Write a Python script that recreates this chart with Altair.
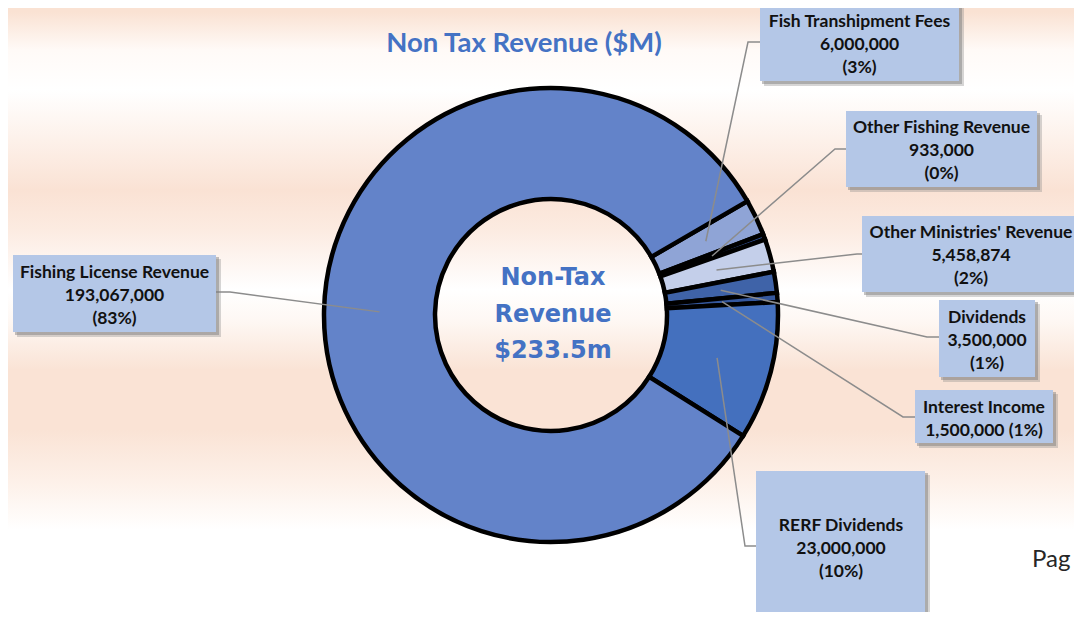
import math
import altair as alt
import pandas as pd

# ---------------- data ----------------
categories = ["Fish Transhipment Fees", "Other Fishing Revenue", "Other Ministries' Revenue",
              "Dividends", "Interest Income", "RERF Dividends", "Fishing License Revenue"]
values = [6000000, 933000, 5458874, 3500000, 1500000, 23000000, 193067000]
colors = ["#8FA4D6", "#2E4C8A", "#C4CFEA", "#3F63A8", "#35589E", "#4470BE", "#6383C9"]
title_text = "Non Tax Revenue ($M)"
center_lines = ["Non-Tax", "Revenue", "$233.5m"]
page_text = "Pag"

# ---------------- layout (screen px, shifted by page margin) ----------------
S = 8
W, H = 1066, 604
CX, CY = 551 - S, 315 - S
R_OUT, R_IN = 227, 116
START = math.radians(59.9)

boxes = [  # x0, y0, x1, y1 (screen)
    (760, 4, 959, 81),
    (846, 111, 1037, 187),
    (862, 216, 1080, 292),
    (939, 300, 1035, 377),
    (915, 390, 1053, 443),
    (756, 471, 925, 640),
    (13, 255, 216, 332),
]
first_base = [27, 133, 238, 323, 413, 531, 278]
LINE_STEP = 23
bends = [
    [(748, 42), (760, 42)],
    [(835, 149), (846, 149)],
    [(857, 254), (862, 254)],
    [(927, 337), (939, 337)],
    [(903, 417), (915, 417)],
    [(745, 546), (756, 546)],
    [(230, 292), (216, 292)],
]

total = sum(values)
pcts = [round(v / total * 100) for v in values]

pie_df = pd.DataFrame({"cat": categories, "value": values, "ord": list(range(len(values)))})

# leader lines: anchor at mid-angle of each slice, mid-ring
line_rows = []
cum = 0
r_mid = (R_OUT + R_IN) / 2
for i, v in enumerate(values):
    mid = START + (cum + v / 2) / total * 2 * math.pi
    cum += v
    ax = CX + r_mid * math.sin(mid)
    ay = CY - r_mid * math.cos(mid)
    pts = [(ax, ay)] + [(bx - S, by - S) for bx, by in bends[i]]
    for k, (px, py) in enumerate(pts):
        line_rows.append({"id": i, "k": k, "x": px, "y": py})
line_df = pd.DataFrame(line_rows)

box_df = pd.DataFrame([{"x0": b[0] - S, "y0": b[1] - S, "x1": b[2] - S, "y1": b[3] - S} for b in boxes])
sh1 = box_df.copy(); sh1["x0"] += 4; sh1["x1"] += 5; sh1["y0"] += 4; sh1["y1"] += 5
sh2 = box_df.copy(); sh2["x0"] += 2; sh2["x1"] += 3; sh2["y0"] += 2; sh2["y1"] += 3

text_rows = []
for i, c in enumerate(categories):
    if c == "Interest Income":
        lines = [c, f"{values[i]:,} ({pcts[i]}%)"]
    else:
        lines = [c, f"{values[i]:,}", f"({pcts[i]}%)"]
    xc = (boxes[i][0] + boxes[i][2]) / 2 - S
    if c == "RERF Dividends":
        xc = 841 - S
    if c == "Other Ministries' Revenue":
        xc = 971 - S
    for j, t in enumerate(lines):
        text_rows.append({"t": t, "x": xc, "y": first_base[i] + j * LINE_STEP - S})
text_df = pd.DataFrame(text_rows)

center_df = pd.DataFrame({"t": center_lines, "x": [553 - S] * 3,
                          "y": [285 - S, 322 - S, 358 - S]})

NOAX = dict(scale=None, axis=None)

# ---------------- layers ----------------
bg_stops = [
    (0, "#FAE2D3"), (12, "#FAE2D3"), (50, "#FFFAF7"), (90, "#FFFFFF"), (140, "#FDF1EA"),
    (190, "#FAE2D4"), (230, "#FCEBE1"), (290, "#FFFFFF"), (320, "#FEF8F4"), (370, "#FAE3D5"),
    (430, "#FAE3D5"), (480, "#FDF0E8"), (530, "#FFFFFF"), (612, "#FFFFFF"),
]
grad = alt.LinearGradient(
    gradient="linear",
    stops=[alt.GradientStop(color=c, offset=min(1, max(0, (y - S) / H))) for y, c in bg_stops],
    x1=0, x2=0, y1=0, y2=1,
)
background = alt.Chart(pd.DataFrame({"a": [0]})).mark_rect(color=grad).encode(
    x=alt.value(0), x2=alt.value(W), y=alt.value(0), y2=alt.value(H)
)

donut = alt.Chart(pie_df).mark_arc(
    innerRadius=R_IN, outerRadius=R_OUT, stroke="black", strokeWidth=4.5
).encode(
    theta=alt.Theta("value:Q", stack=True, scale=alt.Scale(range=[START, START + 2 * math.pi])),
    color=alt.Color("cat:N", scale=alt.Scale(domain=categories, range=colors), legend=None),
    order=alt.Order("ord:Q"),
    x=alt.value(CX),
    y=alt.value(CY),
)

leaders = alt.Chart(line_df).mark_line(color="#8C8C8C", strokeWidth=1.5).encode(
    x=alt.X("x:Q", **NOAX), y=alt.Y("y:Q", **NOAX), detail="id:N", order="k:Q"
)

def rects(df, **kw):
    return alt.Chart(df).mark_rect(**kw).encode(
        x=alt.X("x0:Q", **NOAX), x2="x1:Q", y=alt.Y("y0:Q", **NOAX), y2="y1:Q"
    )

shadow1 = rects(sh1, color="#8A8A8A", opacity=0.35)
shadow2 = rects(sh2, color="#7A7A7A", opacity=0.45)
label_boxes = rects(box_df, color="#B4C7E7")

label_text = alt.Chart(text_df).mark_text(
    font="Lato", fontWeight="bold", fontSize=17.5, color="#111111", align="center", baseline="alphabetic"
).encode(x=alt.X("x:Q", **NOAX), y=alt.Y("y:Q", **NOAX), text="t:N")

center_text = alt.Chart(center_df).mark_text(
    font="DejaVu Sans", fontWeight="bold", fontSize=24, color="#4472C4", align="center", baseline="alphabetic"
).encode(x=alt.X("x:Q", **NOAX), y=alt.Y("y:Q", **NOAX), text="t:N")

title = alt.Chart(pd.DataFrame({"t": [title_text], "x": [524 - S], "y": [52 - S]})).mark_text(
    font="Lato", fontWeight="bold", fontSize=27.5, color="#4472C4", align="center", baseline="alphabetic"
).encode(x=alt.X("x:Q", **NOAX), y=alt.Y("y:Q", **NOAX), text="t:N")

page = alt.Chart(pd.DataFrame({"t": [page_text], "x": [1032 - S], "y": [567 - S]})).mark_text(
    font="Lato", fontSize=24, color="#262626", align="left", baseline="alphabetic"
).encode(x=alt.X("x:Q", **NOAX), y=alt.Y("y:Q", **NOAX), text="t:N")

chart = alt.layer(
    background, donut, leaders, shadow1, shadow2, label_boxes, label_text, center_text, title, page
).properties(
    width=W, height=H, padding=0, autosize=alt.AutoSizeParams(type="none")
).configure_view(stroke=None)

chart.save("out.html", embed_options={"renderer": "svg", "actions": False})
